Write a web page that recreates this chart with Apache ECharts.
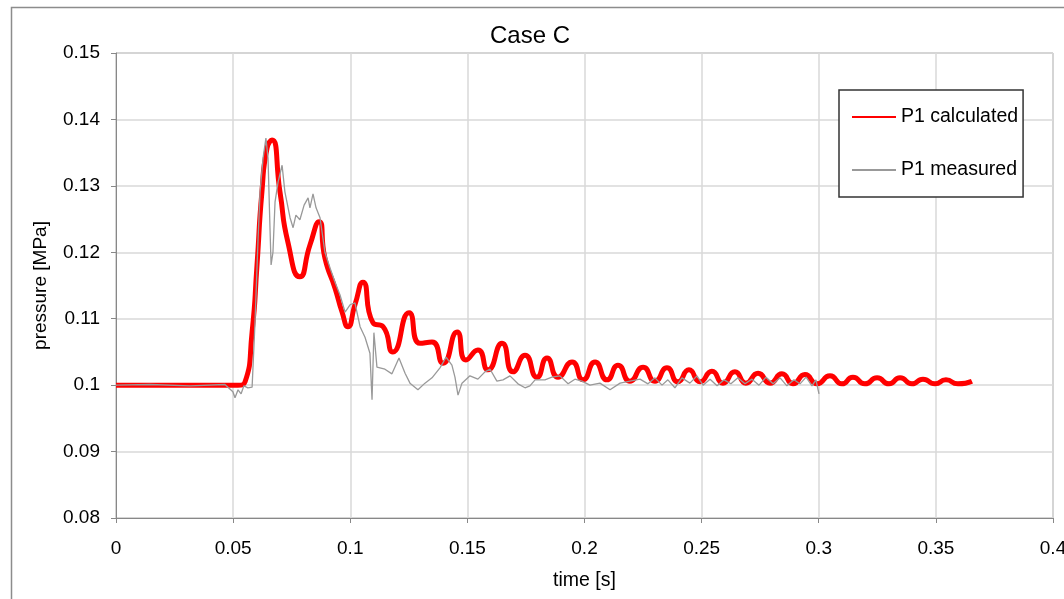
<!DOCTYPE html>
<html>
<head>
<meta charset="utf-8">
<script src="https://cdn.jsdelivr.net/npm/echarts@6/dist/echarts.min.js"></script>
<style>
  html, body { margin: 0; padding: 0; background: #fff; }
  #chart { width: 1064px; height: 599px; }
</style>
</head>
<body>
<div id="chart"></div>
<script>
// P1 calculated
var calcTime = [0, 0.052, 0.0551, 0.0581, 0.0602, 0.0623, 0.0645, 0.0666, 0.0700, 0.0734,
    0.0785, 0.0828, 0.0867, 0.0892, 0.0935, 0.0965, 0.0990, 0.1020, 0.1054, 0.1097,
    0.1140, 0.1182, 0.1251, 0.1298, 0.1349, 0.1396, 0.1456, 0.1494, 0.1545, 0.1588,
    0.1648, 0.1695, 0.1746, 0.1797, 0.1840, 0.1887, 0.1947, 0.1994, 0.2045, 0.2096,
    0.2143, 0.2194, 0.2250, 0.2301, 0.2352, 0.2399, 0.2446, 0.2493, 0.2544, 0.2591,
    0.2642, 0.2689, 0.2741, 0.2792, 0.2843, 0.2890, 0.2941, 0.2993, 0.3048, 0.3099,
    0.3146, 0.3197, 0.3249, 0.3300, 0.3347, 0.3398, 0.3445, 0.3496, 0.3543, 0.3594,
    0.3654];
var calcPressure = [0.1000, 0.1000, 0.1005, 0.1080, 0.1181, 0.1291, 0.1357, 0.1369, 0.1291, 0.1215,
    0.1163, 0.1211, 0.1246, 0.1191, 0.1146, 0.1110, 0.1088, 0.1121, 0.1155, 0.1094,
    0.1088, 0.1050, 0.1109, 0.1063, 0.1065, 0.1033, 0.1080, 0.1038, 0.1053, 0.1023,
    0.1063, 0.1020, 0.1045, 0.1012, 0.1041, 0.1012, 0.1035, 0.1008, 0.1035, 0.1008,
    0.1030, 0.1006, 0.1027, 0.1006, 0.1026, 0.1005, 0.1023, 0.1005, 0.1021, 0.1003,
    0.1020, 0.1003, 0.1018, 0.1003, 0.1017, 0.1002, 0.1016, 0.1002, 0.1014, 0.1002,
    0.1012, 0.1002, 0.1011, 0.1002, 0.1011, 0.1002, 0.1009, 0.1002, 0.1008, 0.1002,
    0.1006];

// P1 measured
var measTime = [0, 0.0145, 0.0316, 0.0465, 0.0499, 0.0508, 0.0521, 0.0534, 0.0546, 0.0563,
    0.0581, 0.0593, 0.0606, 0.0615, 0.0628, 0.0640, 0.0649, 0.0657, 0.0662, 0.0670,
    0.0679, 0.0692, 0.0709, 0.0721, 0.0743, 0.0756, 0.0768, 0.0785, 0.0803, 0.0820,
    0.0828, 0.0841, 0.0854, 0.0871, 0.0892, 0.0914, 0.0935, 0.0956, 0.0978, 0.0999,
    0.1020, 0.1042, 0.1063, 0.1084, 0.1093, 0.1101, 0.1114, 0.1148, 0.1178, 0.1208,
    0.1234, 0.1255, 0.1289, 0.1319, 0.1349, 0.1383, 0.1409, 0.1434, 0.1447, 0.1460,
    0.1477, 0.1511, 0.1545, 0.1575, 0.1597, 0.1626, 0.1652, 0.1682, 0.1716, 0.1746,
    0.1767, 0.1789, 0.1831, 0.1861, 0.1895, 0.1930, 0.1959, 0.1989, 0.2023, 0.2066,
    0.2109, 0.2152, 0.2194, 0.2237, 0.2271, 0.2301, 0.2331, 0.2356, 0.2386, 0.2416,
    0.2450, 0.2480, 0.2506, 0.2536, 0.2566, 0.2596, 0.2625, 0.2655, 0.2685, 0.2715,
    0.2745, 0.2775, 0.2805, 0.2835, 0.2864, 0.2894, 0.2920, 0.2946, 0.2971, 0.2988,
    0.3001];
var measPressure = [0.1000, 0.1001, 0.0999, 0.1001, 0.0990, 0.0981, 0.0993, 0.0987, 0.0999, 0.0996,
    0.0997, 0.1091, 0.1216, 0.1291, 0.1342, 0.1372, 0.1342, 0.1241, 0.1181, 0.1200,
    0.1276, 0.1306, 0.1331, 0.1291, 0.1252, 0.1237, 0.1256, 0.1249, 0.1271, 0.1282,
    0.1267, 0.1288, 0.1267, 0.1252, 0.1200, 0.1176, 0.1155, 0.1136, 0.1110, 0.1121,
    0.1124, 0.1088, 0.1072, 0.1048, 0.0978, 0.1079, 0.1027, 0.1024, 0.1017, 0.1041,
    0.1018, 0.1003, 0.0993, 0.1003, 0.1011, 0.1026, 0.1042, 0.1030, 0.1012, 0.0985,
    0.1003, 0.1014, 0.1009, 0.1020, 0.1024, 0.1006, 0.1008, 0.1014, 0.1002, 0.0996,
    0.0999, 0.1008, 0.1008, 0.1012, 0.1014, 0.1002, 0.1009, 0.1006, 0.1000, 0.1003,
    0.0993, 0.1003, 0.1006, 0.1009, 0.1002, 0.1011, 0.1000, 0.1008, 0.0996, 0.1011,
    0.1003, 0.1014, 0.1000, 0.1009, 0.0999, 0.1008, 0.1002, 0.1011, 0.1002, 0.1009,
    0.1000, 0.1012, 0.1002, 0.1011, 0.0999, 0.1008, 0.1002, 0.1012, 0.0999, 0.1008,
    0.0987];

var xTicks = { min: 0, max: 0.4, step: 0.05 };
var yTicks = { min: 0.08, max: 0.15, step: 0.01 };

function zip(a, b) {
    var out = [];
    for (var i = 0; i < a.length; i++) out.push([a[i], b[i]]);
    return out;
}

var font = 'Liberation Sans, Arial, sans-serif';
var myChart = echarts.init(document.getElementById('chart'));
var option = {
    animation: false,
    backgroundColor: '#fff',
    title: {
        text: 'Case C',
        left: 485,
        top: 19,
        textStyle: { fontFamily: font, fontSize: 24, fontWeight: 'normal', color: '#000' }
    },
    graphic: [{
        type: 'rect',
        shape: { x: 11.5, y: 7.5, width: 1200, height: 800 },
        style: { fill: 'none', stroke: '#8c8c8c', lineWidth: 1.5 },
        silent: true
    }],
    legend: {
        orient: 'vertical',
        left: 839,
        top: 90,
        padding: [17, 5, 17, 12],
        itemGap: 33,
        itemWidth: 44,
        itemHeight: 14,
        backgroundColor: '#fff',
        borderColor: '#333',
        borderWidth: 1.5,
        itemStyle: { opacity: 0 },
        textStyle: { fontFamily: font, fontSize: 19.5, color: '#000' },
        data: ['P1 calculated', 'P1 measured']
    },
    grid: {
        left: 116,
        right: 11,
        top: 53,
        bottom: 81,
        outerBoundsMode: 'none',
        containLabel: false,
        show: true,
        borderColor: '#999',
        borderWidth: 1
    },
    xAxis: {
        type: 'value',
        min: xTicks.min,
        max: xTicks.max,
        interval: xTicks.step,
        name: 'time [s]',
        nameLocation: 'middle',
        nameGap: 53,
        nameTextStyle: { fontFamily: font, fontSize: 19.5, color: '#000' },
        axisLine: { lineStyle: { color: '#888', width: 1 } },
        axisTick: { show: true, length: 5, lineStyle: { color: '#888' } },
        axisLabel: {
            fontFamily: font, fontSize: 19, color: '#000', margin: 21,
            formatter: function (v) { return String(+v.toFixed(2)); }
        },
        splitLine: { lineStyle: { color: '#d9d9d9', width: 1.5 } }
    },
    yAxis: {
        type: 'value',
        min: yTicks.min,
        max: yTicks.max,
        interval: yTicks.step,
        name: 'pressure [MPa]',
        nameLocation: 'middle',
        nameGap: 66,
        nameTextStyle: { fontFamily: font, fontSize: 19, color: '#000' },
        axisLine: { show: true, lineStyle: { color: '#888', width: 1 } },
        axisTick: { show: true, length: 5, lineStyle: { color: '#888' } },
        axisLabel: {
            fontFamily: font, fontSize: 19, color: '#000', margin: 16,
            formatter: function (v) { return String(+v.toFixed(2)); }
        },
        splitLine: { lineStyle: { color: '#d9d9d9', width: 1.5 } }
    },
    series: [
        {
            name: 'P1 calculated',
            type: 'line',
            data: zip(calcTime, calcPressure),
            smooth: 0.6,
            showSymbol: false,
            symbol: 'none',
            lineStyle: { color: '#ff0000', width: 5 },
            itemStyle: { color: '#ff0000' },
            z: 2
        },
        {
            name: 'P1 measured',
            type: 'line',
            data: zip(measTime, measPressure),
            showSymbol: false,
            symbol: 'none',
            lineStyle: { color: '#999', width: 1.3 },
            itemStyle: { color: '#999' },
            z: 3
        }
    ]
};
myChart.setOption(option);
</script>
</body>
</html>
